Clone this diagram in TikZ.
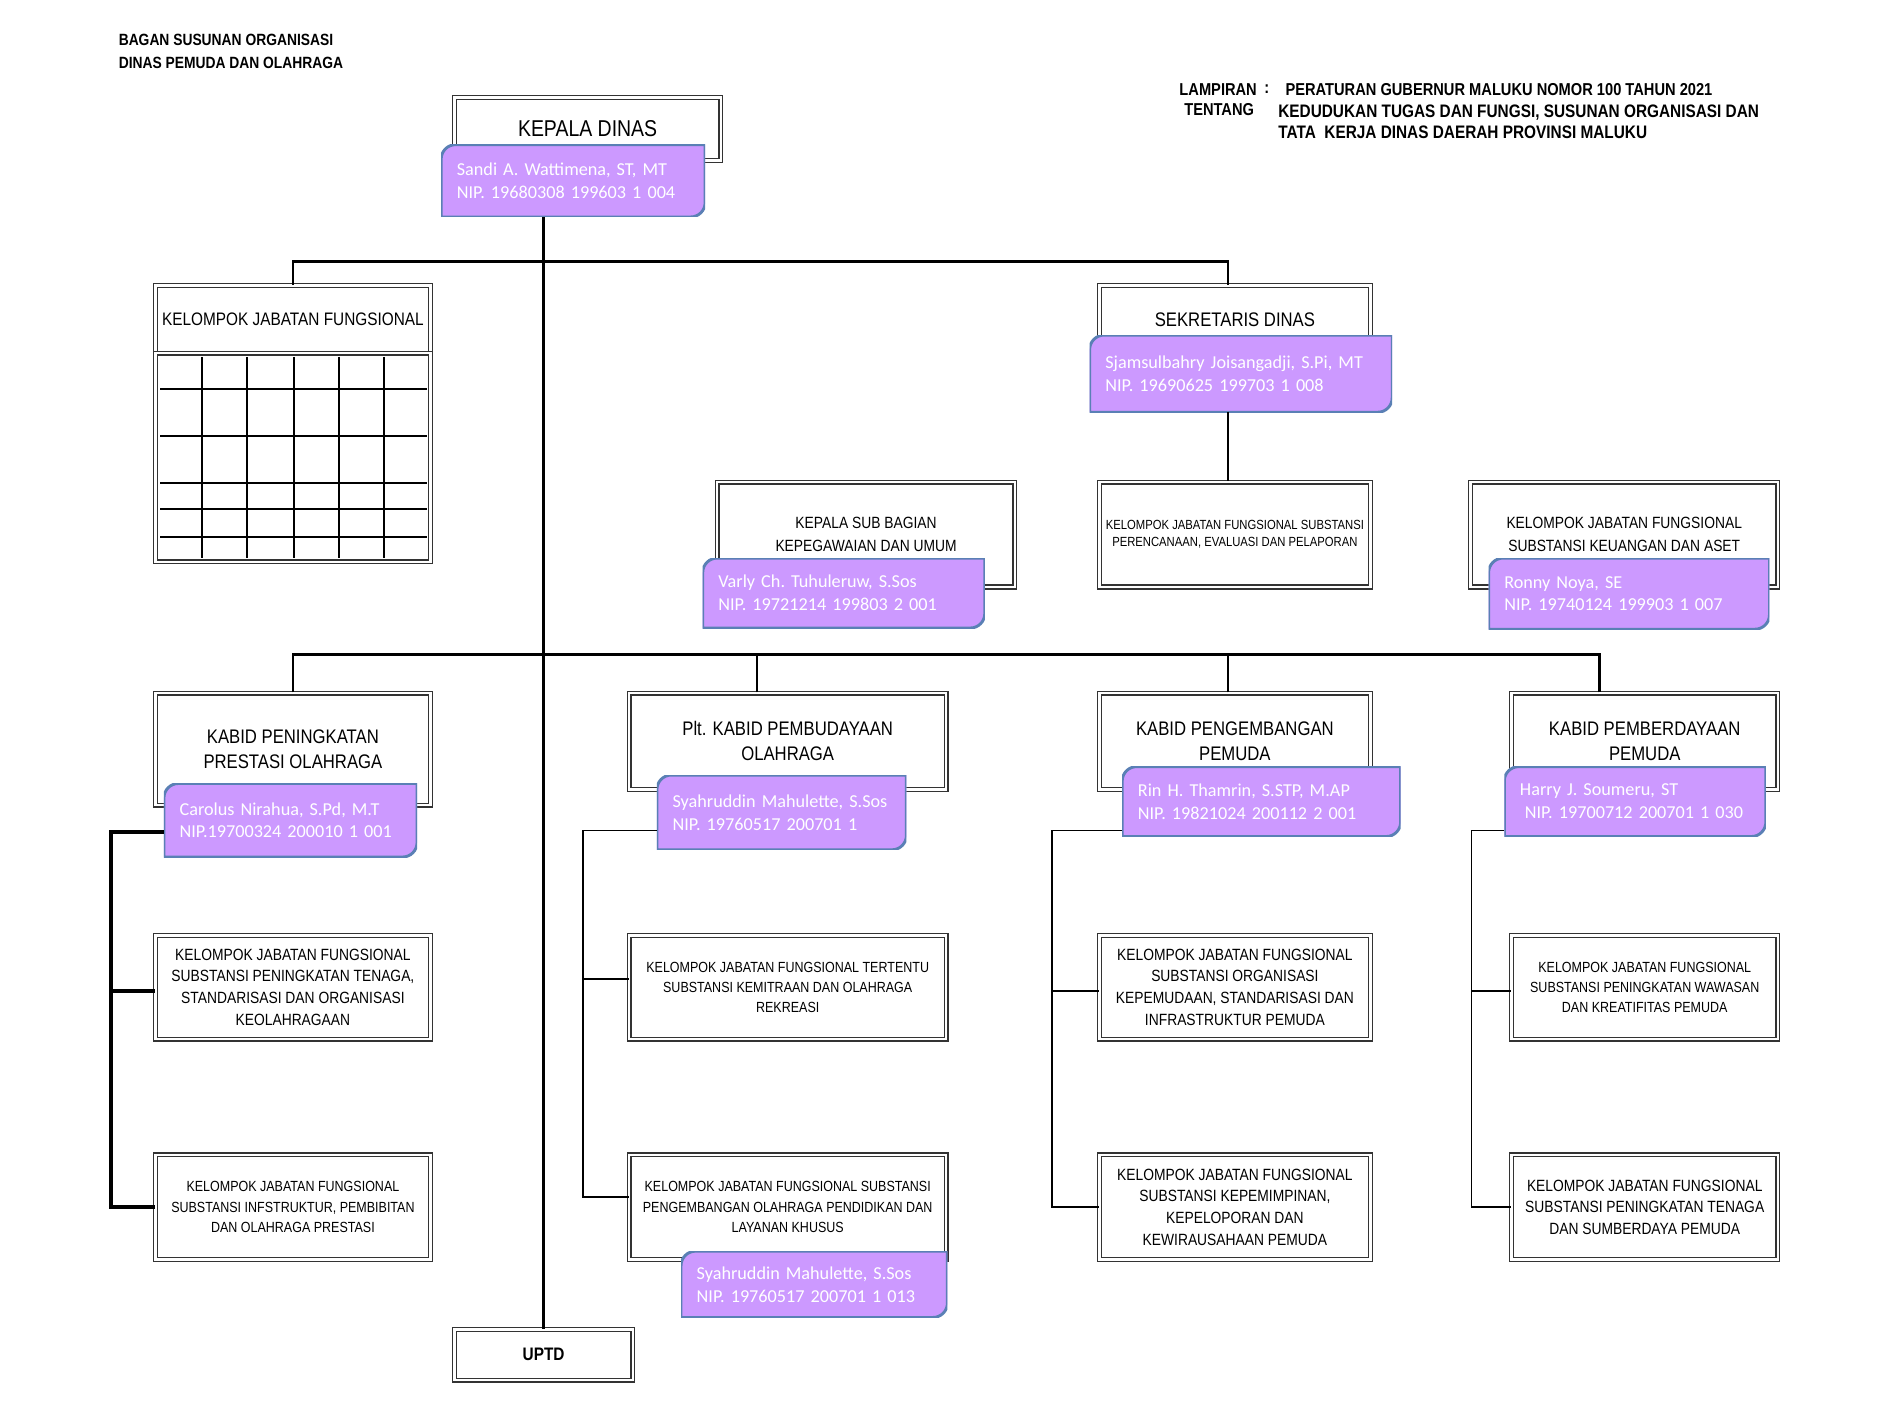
\documentclass[tikz,border=0pt]{standalone}
\usepackage{fontspec}
\setmainfont{Liberation Sans}[FakeStretch=0.85]
\newfontfamily\namafont{Carlito}
\usepackage{tikz}
\usetikzlibrary{calc}
\definecolor{ungu}{HTML}{CC99FF}
\definecolor{birugaris}{HTML}{5A80B5}

\begin{document}
\begin{tikzpicture}[x=1pt, y=-1pt,
    jabatan/.style={draw=black!80, double=white, double distance=2pt, line width=1.1pt, fill=white, align=center, inner sep=1pt},
    pejabat/.style={font=\namafont\frenchspacing\fontsize{15.1}{19}\selectfont, text=white, align=left, inner xsep=13pt, inner ysep=0pt,
        path picture={\filldraw[fill=ungu, draw=birugaris, line width=2.4pt]
            (path picture bounding box.south west) -- ([yshift=-12pt]path picture bounding box.north west)
            arc[start angle=180, end angle=90, radius=12pt] -- (path picture bounding box.north east)
            -- ([yshift=12pt]path picture bounding box.south east)
            arc[start angle=0, end angle=-90, radius=12pt] -- cycle;}},
    garis/.style={line width=2pt},
    garis tebal/.style={line width=3.2pt},
    garis tipis/.style={line width=1.3pt},
    garis kisi/.style={line width=1.3pt},
    judul/.style={font=\bfseries\fontsize{13.5}{19}\selectfont},
    kop/.style={font=\bfseries\fontsize{14.3}{18}\selectfont},
    kop besar/.style={font=\bfseries\fontsize{15}{18}\selectfont},
    fkd/.style={font=\fontsize{19}{22}\selectfont},
    fbesar/.style={font=\fontsize{16.3}{21}\selectfont},
    fheader/.style={font=\fontsize{15}{18}\selectfont},
    fsedang/.style={font=\fontsize{13.5}{18}\selectfont},
    fkecil/.style={font=\fontsize{12.2}{16.5}\selectfont},
    fmini/.style={font=\fontsize{11}{14}\selectfont},
    fuptd/.style={font=\bfseries\fontsize{15}{18}\selectfont}]

    \fill[white] (0,0) rectangle (1568,1176);
    \useasboundingbox (0,0) rectangle (1568,1176);

    % kepala halaman
    \node[judul, anchor=west, align=left] (judul) at (95,42.5) {BAGAN SUSUNAN ORGANISASI\\DINAS PEMUDA DAN OLAHRAGA};
    \node[kop, anchor=west] (lampiran) at (975,74) {LAMPIRAN};
    \node[kop] (titikdua) at (1051,74) {:};
    \node[kop, anchor=west] (peraturan) at (1063,74) {PERATURAN GUBERNUR MALUKU NOMOR 100 TAHUN 2021};
    \node[kop, anchor=west] (tentang) at (979,91) {TENTANG};
    \node[kop besar, anchor=west, align=left] (perihal) at (1057,101) {KEDUDUKAN TUGAS DAN FUNGSI, SUSUNAN ORGANISASI DAN\\TATA\ \ KERJA DINAS DAERAH PROVINSI MALUKU};

    % pimpinan dan sekretariat
    \node[jabatan, fkd, minimum width=221pt, minimum height=52pt] (kadis) at (487.5,107) {KEPALA DINAS};
    \node[jabatan, fheader, minimum width=228pt, minimum height=56pt] (kjf) at (243,265) {KELOMPOK JABATAN FUNGSIONAL};
    \node[jabatan, minimum width=228pt, minimum height=173pt] (tabel) at (243,379.5) {};
    \node[jabatan, fbesar, minimum width=225pt, minimum height=56pt] (sek) at (1024.5,265) {SEKRETARIS DINAS};
    \node[jabatan, minimum width=247pt, minimum height=87pt, font=\fontsize{13.5}{19}\selectfont] (kasub) at (718.5,443.5) {KEPALA SUB BAGIAN\\KEPEGAWAIAN DAN UMUM};
    \node[jabatan, fmini, minimum width=225pt, minimum height=87pt] (ren) at (1024.5,443.5) {KELOMPOK JABATAN FUNGSIONAL SUBSTANSI\\PERENCANAAN, EVALUASI DAN PELAPORAN};
    \node[jabatan, minimum width=255pt, minimum height=87pt, font=\fontsize{13.5}{19}\selectfont] (uang) at (1347.5,443.5) {KELOMPOK JABATAN FUNGSIONAL\\SUBSTANSI KEUANGAN DAN ASET};

    \foreach \x in {167.6,204.9,243.9,281.2,318.6}
        \draw[garis kisi] (\x,296) -- (\x,463);
    \foreach \y in {322.7,361.7,400.7,422.3,445.5}
        \draw[garis kisi] (133,\y) -- (354,\y);

    % bidang
    \node[jabatan, fbesar, minimum width=228pt, minimum height=93pt] (prestasi) at (243,621.5) {KABID PENINGKATAN\\PRESTASI OLAHRAGA};
    \node[jabatan, fbesar, minimum width=263pt, minimum height=80pt] (budaya) at (653.5,615) {Plt. KABID PEMBUDAYAAN\\OLAHRAGA};
    \node[jabatan, fbesar, minimum width=225pt, minimum height=80pt] (kembang) at (1024.5,615) {KABID PENGEMBANGAN\\PEMUDA};
    \node[jabatan, fbesar, minimum width=221pt, minimum height=80pt] (berdaya) at (1364.5,615) {KABID PEMBERDAYAAN\\PEMUDA};

    \node[jabatan, fsedang, minimum width=228pt, minimum height=86pt] (tenaga) at (243,819) {KELOMPOK JABATAN FUNGSIONAL\\SUBSTANSI PENINGKATAN TENAGA,\\STANDARISASI DAN ORGANISASI\\KEOLAHRAGAAN};
    \node[jabatan, minimum width=228pt, minimum height=87pt, font=\fontsize{12.2}{17}\selectfont] (infra) at (243,1001.5) {KELOMPOK JABATAN FUNGSIONAL\\SUBSTANSI INFSTRUKTUR, PEMBIBITAN\\DAN OLAHRAGA PRESTASI};
    \node[jabatan, fkecil, minimum width=263pt, minimum height=86pt] (tertentu) at (653.5,819) {KELOMPOK JABATAN FUNGSIONAL TERTENTU\\SUBSTANSI KEMITRAAN DAN OLAHRAGA\\REKREASI};
    \node[jabatan, minimum width=263pt, minimum height=87pt, font=\fontsize{12.2}{17}\selectfont] (olah) at (653.5,1001.5) {KELOMPOK JABATAN FUNGSIONAL SUBSTANSI\\PENGEMBANGAN OLAHRAGA PENDIDIKAN DAN\\LAYANAN KHUSUS};
    \node[jabatan, fsedang, minimum width=225pt, minimum height=86pt] (organisasi) at (1024.5,819) {KELOMPOK JABATAN FUNGSIONAL\\SUBSTANSI ORGANISASI\\KEPEMUDAAN, STANDARISASI DAN\\INFRASTRUKTUR PEMUDA};
    \node[jabatan, fsedang, minimum width=225pt, minimum height=87pt] (pimpin) at (1024.5,1001.5) {KELOMPOK JABATAN FUNGSIONAL\\SUBSTANSI KEPEMIMPINAN,\\KEPELOPORAN DAN\\KEWIRAUSAHAAN PEMUDA};
    \node[jabatan, fkecil, minimum width=221pt, minimum height=86pt] (wawasan) at (1364.5,819) {KELOMPOK JABATAN FUNGSIONAL\\SUBSTANSI PENINGKATAN WAWASAN\\DAN KREATIFITAS PEMUDA};
    \node[jabatan, fsedang, minimum width=221pt, minimum height=87pt] (sdm) at (1364.5,1001.5) {KELOMPOK JABATAN FUNGSIONAL\\SUBSTANSI PENINGKATAN TENAGA\\DAN SUMBERDAYA PEMUDA};

    \node[jabatan, fuptd, minimum width=148pt, minimum height=42pt] (uptd) at (451,1124) {UPTD};

    % nama pejabat
    \node[pejabat, text width=193pt, minimum height=60pt] (p_kadis) at (475.5,150) {Sandi A. Wattimena, ST, MT\\NIP. 19680308 199603 1 004};
    \node[pejabat, text width=225pt, minimum height=64pt] (p_sek) at (1029.5,310) {Sjamsulbahry Joisangadji, S.Pi, MT\\NIP. 19690625 199703 1 008};
    \node[pejabat, text width=208pt, minimum height=58pt] (p_kasub) at (700,492) {Varly Ch. Tuhuleruw, S.Sos\\NIP. 19721214 199803 2 001};
    \node[pejabat, text width=207pt, minimum height=59pt] (p_uang) at (1351.5,492.5) {Ronny Noya, SE\\NIP. 19740124 199903 1 007};
    \node[pejabat, text width=184pt, minimum height=61pt] (p_prestasi) at (241,680.5) {Carolus Nirahua, S.Pd, M.T\\NIP.19700324 200010 1 001};
    \node[pejabat, text width=181pt, minimum height=62pt] (p_budaya) at (648.5,674) {Syahruddin Mahulette, S.Sos\\NIP. 19760517 200701 1};
    \node[pejabat, text width=205pt, minimum height=58pt] (p_kembang) at (1046.5,665) {Rin H. Thamrin, S.STP, M.AP\\NIP. 19821024 200112 2 001};
    \node[pejabat, text width=191pt, minimum height=58pt] (p_berdaya) at (1356.5,665) {Harry J. Soumeru, ST\\\hspace*{4pt}NIP. 19700712 200701 1 030};
    \node[pejabat, text width=195pt, minimum height=55pt] (p_olah) at (675.5,1065.5) {Syahruddin Mahulette, S.Sos\\NIP. 19760517 200701 1 013};

    % garis komando
    \coordinate (atas) at (450,217);
    \coordinate (tengah) at (450,543);
    \draw[garis] (p_kadis.south -| uptd.north) -- (uptd.north);
    \draw[garis] (kjf.north) |- (atas);
    \draw[garis] ([xshift=-5.5pt]sek.north) |- (atas);
    \draw[garis tipis] ([xshift=-5.5pt]ren.north |- p_sek.south) -- ([xshift=-5.5pt]ren.north);
    \draw[garis] (prestasi.north) |- (tengah);
    \draw[garis] ([xshift=-37.5pt]berdaya.north) |- (tengah);
    \draw[garis] ([xshift=-25.5pt]budaya.north) -- ([xshift=-25.5pt]budaya.north |- tengah);
    \draw[garis] ([xshift=-5.5pt]kembang.north) -- ([xshift=-5.5pt]kembang.north |- tengah);

    \draw[garis tebal] ([yshift=-9.5pt]p_prestasi.west) -- ++(-44,0) |- (infra.west);
    \draw[garis tebal] ([yshift=-3pt]tenaga.west) -- ++(-37,0);
    \draw[garis tipis] ([yshift=-15pt]p_budaya.west) -- ++(-61,0) |- ([yshift=8.5pt]olah.west);
    \draw[garis tipis] ([yshift=7pt]tertentu.west) -- ++(-38,0);
    \draw[garis tipis] ([yshift=-24pt]p_kembang.west) -- ++(-58,0) |- (pimpin.west);
    \draw[garis tipis] ([yshift=-3pt]organisasi.west) -- ++(-39,0);
    \draw[garis tipis] ([yshift=-24pt]p_berdaya.west) -- ++(-27,0) |- (sdm.west);
    \draw[garis tipis] ([yshift=-3pt]wawasan.west) -- ++(-33,0);
\end{tikzpicture}
\end{document}
